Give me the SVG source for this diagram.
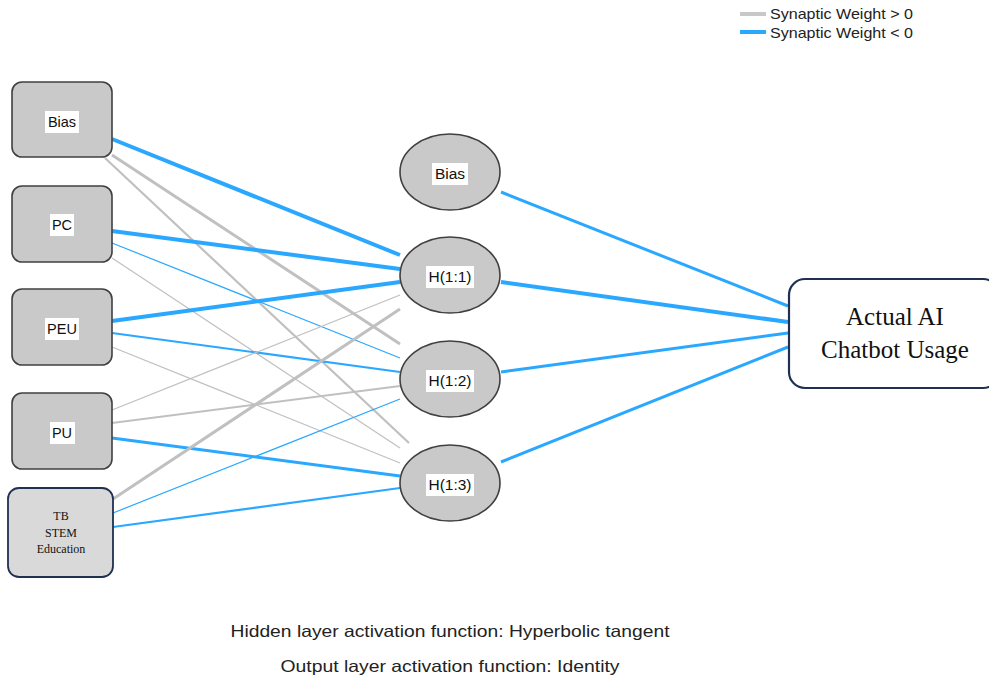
<svg xmlns="http://www.w3.org/2000/svg" width="989" height="681" viewBox="0 0 989 681">
<style>
.in{fill:#c9c9c9;stroke:#404040;stroke-width:1.6}
.tb{fill:#d9d9d9;stroke:#1f3050;stroke-width:1.8}
.hid{fill:#c9c9c9;stroke:#404040;stroke-width:1.6}
.out{fill:#ffffff;stroke:#1f3050;stroke-width:2.2}
.lbl{font-family:"Liberation Sans",Arial,sans-serif;font-size:14.5px;fill:#111;text-anchor:middle}
.hl{font-family:"Liberation Sans",Arial,sans-serif;font-size:15.5px;fill:#111;text-anchor:middle}
.lb{fill:#ffffff}
.tm{font-family:"Liberation Serif","Times New Roman",serif;fill:#111;text-anchor:middle}
.p{stroke:#c0c0c0;fill:none}
.n{stroke:#2aa8ff;fill:none}
.w1{stroke-width:1.2}
.w2{stroke-width:2.2}
.w3{stroke-width:3}
.w4{stroke-width:4}
.cap{font-family:"Liberation Sans",Arial,sans-serif;font-size:16.5px;fill:#222;text-anchor:middle}
.leg{font-family:"Liberation Sans",Arial,sans-serif;font-size:14.5px;fill:#222}
</style>
<rect width="989" height="681" fill="#ffffff"/>
<g id="connectors">
<line class="n w4" x1="112" y1="139" x2="400" y2="255"/>
<line class="p w3" x1="112" y1="155" x2="400" y2="344"/>
<line class="p w2" x1="105" y1="158" x2="409" y2="443"/>
<line class="n w4" x1="112" y1="231" x2="400" y2="269"/>
<line class="n w1" x1="112" y1="243" x2="400" y2="358"/>
<line class="p w1" x1="112" y1="258" x2="400" y2="448"/>
<line class="n w4" x1="112" y1="321" x2="400" y2="282"/>
<line class="n w2" x1="112" y1="333" x2="400" y2="372"/>
<line class="p w1" x1="112" y1="347" x2="400" y2="463"/>
<line class="p w1" x1="112" y1="410" x2="400" y2="295"/>
<line class="p w2" x1="112" y1="423" x2="400" y2="386"/>
<line class="n w3" x1="112" y1="438" x2="400" y2="476"/>
<line class="p w3" x1="113" y1="499" x2="400" y2="309"/>
<line class="n w1" x1="113" y1="513" x2="400" y2="399"/>
<line class="n w2" x1="113" y1="527" x2="400" y2="488"/>
<line class="n w3" x1="501" y1="192" x2="788" y2="306"/>
<line class="n w4" x1="501" y1="282" x2="788" y2="322"/>
<line class="n w3" x1="501" y1="372" x2="788" y2="333"/>
<line class="n w3" x1="501" y1="462" x2="788" y2="347"/>
</g>
<g id="in-bias">
<rect class="in" x="12" y="82" width="100" height="75" rx="10"/>
<rect class="lb" x="45" y="111" width="34" height="22"/>
<text class="lbl" x="62" y="127">Bias</text>
</g>
<g id="in-pc">
<rect class="in" x="12" y="186" width="100" height="76" rx="10"/>
<rect class="lb" x="50" y="214" width="24" height="22"/>
<text class="lbl" x="62" y="230">PC</text>
</g>
<g id="in-peu">
<rect class="in" x="12" y="289" width="100" height="76" rx="10"/>
<rect class="lb" x="45" y="318" width="34" height="22"/>
<text class="lbl" x="62" y="334">PEU</text>
</g>
<g id="in-pu">
<rect class="in" x="12" y="393" width="100" height="76" rx="10"/>
<rect class="lb" x="50" y="422" width="25" height="22"/>
<text class="lbl" x="62" y="438">PU</text>
</g>
<g id="in-tb">
<rect class="tb" x="8" y="488" width="105" height="89" rx="11"/>
<text class="tm" x="61" y="520" font-size="12">TB</text>
<text class="tm" x="61" y="537" font-size="12">STEM</text>
<text class="tm" x="61" y="553" font-size="12">Education</text>
</g>
<g id="h-bias">
<ellipse class="hid" cx="450" cy="172" rx="50" ry="38"/>
<rect class="lb" x="432" y="163" width="36" height="22"/>
<text class="hl" x="450" y="179">Bias</text>
</g>
<g id="h11">
<ellipse class="hid" cx="450" cy="275" rx="50" ry="38"/>
<rect class="lb" x="426" y="266" width="48" height="22"/>
<text class="hl" x="450" y="282">H(1:1)</text>
</g>
<g id="h12">
<ellipse class="hid" cx="450" cy="379" rx="50" ry="38"/>
<rect class="lb" x="426" y="370" width="48" height="22"/>
<text class="hl" x="450" y="386">H(1:2)</text>
</g>
<g id="h13">
<ellipse class="hid" cx="450" cy="483" rx="50" ry="38"/>
<rect class="lb" x="426" y="474" width="48" height="22"/>
<text class="hl" x="450" y="490">H(1:3)</text>
</g>
<g id="output">
<rect class="out" x="789" y="279" width="210" height="109" rx="16"/>
<text class="tm" x="895" y="325" font-size="25">Actual AI</text>
<text class="tm" x="895" y="358" font-size="25">Chatbot Usage</text>
</g>
<g id="legend">
<line x1="740" y1="14" x2="766" y2="14" stroke="#c8c8c8" stroke-width="4"/>
<line x1="740" y1="32" x2="766" y2="32" stroke="#2aa8ff" stroke-width="4"/>
<text class="leg" x="770" y="19" textLength="143" lengthAdjust="spacingAndGlyphs">Synaptic Weight &gt; 0</text>
<text class="leg" x="770" y="38" textLength="143" lengthAdjust="spacingAndGlyphs">Synaptic Weight &lt; 0</text>
</g>
<g id="captions">
<text class="cap" x="450" y="637" textLength="439" lengthAdjust="spacingAndGlyphs">Hidden layer activation function: Hyperbolic tangent</text>
<text class="cap" x="450" y="672" textLength="339" lengthAdjust="spacingAndGlyphs">Output layer activation function: Identity</text>
</g>
</svg>
